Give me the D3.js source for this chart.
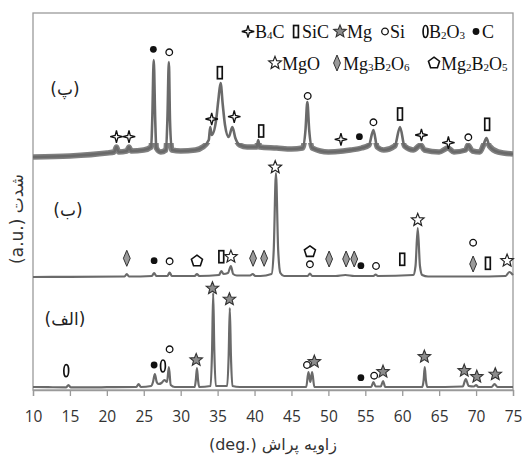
<!DOCTYPE html>
<html><head><meta charset="utf-8">
<script src="https://cdn.jsdelivr.net/npm/d3@7"></script>
<style>body{margin:0;background:#fff}</style>
</head><body>
<svg id="c" width="522" height="460"></svg>
<script>
// ---------------- data ----------------
const xTicks = [10,15,20,25,30,35,40,45,50,55,60,65,70,75];
const xTitle = "(deg.) زاویه پراش";
const yTitle = "(a.u.) شدت";
const panelLabels = ["(الف)", "(ب)", "(پ)"];
const legendRow1 = ["B4C","SiC","Mg","Si","B2O3","C"];
const legendRow2 = ["MgO","Mg3B2O6","Mg2B2O5"];

// pattern (الف) : [2θ, intensity a.u.]
const patternAlef = [[10,3],[12,2.8],[14.5,2.6],[14.8,5],[15.1,2.6],[18,2.6],[20,2.8],[24.0,3],[24.3,6],[24.6,3],[26.0,4],[26.25,8],[26.5,16],[26.75,8],[27.0,6],[27.4,7],[27.8,10],[28.15,8],[28.4,23],[28.65,5],[29.2,3],[31.9,3],[32.05,10],[32.2,22],[32.35,10],[32.5,3],[34.05,4],[34.25,40],[34.4,97],[34.55,40],[34.75,4],[36.3,4],[36.5,35],[36.65,82],[36.8,35],[37.0,4],[38,3],[47.0,3],[47.3,18],[47.55,8],[47.8,18],[48.1,3],[55.8,3],[56.1,8],[56.4,3.5],[57.1,3.5],[57.4,9],[57.7,3],[62.7,3],[62.9,10],[63.05,23],[63.2,10],[63.4,3],[68.2,3.5],[68.6,11],[69.0,4],[69.7,3.5],[70.0,5],[70.3,3],[72.1,3],[72.5,6],[72.9,3],[75,3]];

// pattern (ب)
const patternBe = [[10,3],[15,3.2],[22.4,3.5],[22.7,6],[23.0,3.5],[26.1,4],[26.4,7],[26.7,4],[28.2,4],[28.5,7.5],[28.8,4],[31.9,4],[32.2,6],[32.5,4],[35.2,5],[35.5,9],[35.8,6],[36.4,7],[36.8,14],[37.1,6],[37.6,4.5],[39.4,4.5],[39.75,6],[40.1,4],[40.8,4],[42.3,6],[42.6,30],[42.9,107],[43.2,30],[43.5,7],[44,4],[47.2,4],[47.5,6.5],[47.8,4],[51,4],[52.3,5],[53.5,4],[56.1,4],[56.4,5.5],[56.7,4],[61.5,5],[61.8,14],[62.1,52],[62.4,14],[62.7,5],[63.5,3.5],[69.5,3.5],[74.0,4],[74.5,8],[75,5]];

// pattern (پ)
const patternPe = [[10,3],[15,4],[20,7],[21.0,8],[21.3,13],[21.6,8],[22.7,9],[23.0,13],[23.3,9],[25,10],[26.0,13],[26.15,40],[26.35,100],[26.55,40],[26.7,12],[27.3,8],[28.0,10],[28.2,40],[28.4,98],[28.55,40],[28.8,10],[30,9],[32,10],[33,13],[33.8,20],[34.0,33],[34.2,25],[34.8,40],[35.1,60],[35.4,77],[35.7,55],[36.0,35],[36.5,23],[37.0,33],[37.4,22],[38,15],[39,13],[40.3,13],[40.5,20],[40.7,13],[43,12],[45,11],[46.5,12],[46.9,30],[47.15,58],[47.4,30],[47.8,12],[50,8],[52,9],[53,10],[54.5,12],[55.5,15],[56.1,30],[56.6,13],[57.5,10],[59.0,14],[59.7,33],[60.3,14],[61.5,10],[62.5,15],[63,10],[65,8],[66.2,12],[67,8],[68.6,10],[68.9,15],[69.5,9],[70.5,8],[71.0,15],[71.4,22],[71.8,14],[73,8],[75,6]];

// phase markers: [phase, 2θ, level a.u.]
const markersAlef = [["B2O3",14.5,19.3],["C",26.4,25],["B2O3",27.6,24],["Si",28.5,40.7],["Mg",32.1,30],["Mg",34.3,101.7],["Mg",36.6,90.7],["Si",47.1,25],["Mg",48.1,28.3],["C",54.4,12.3],["Si",56.2,14.3],["Mg",57.4,18.3],["Mg",63.0,33.3],["Mg",68.4,19.3],["Mg",70.1,13.3],["Mg",72.6,15.7]];
const markersBe = [["Mg3B2O6",22.7,21.7],["C",26.4,19.3],["Si",28.5,18.7],["Mg2B2O5",32.2,19],["SiC",35.5,23.3],["MgO",36.8,23.3],["Mg3B2O6",39.8,21.7],["Mg3B2O6",41.3,21.7],["MgO",42.8,112.7],["Mg2B2O5",47.5,28.3],["Si",47.5,15.7],["Mg3B2O6",50.1,21],["Mg3B2O6",52.4,21],["Mg3B2O6",53.5,21],["C",54.4,14.3],["Si",56.45,14],["SiC",60.0,20.7],["MgO",62.1,60],["Si",69.6,37.3],["Mg3B2O6",69.6,16],["SiC",71.6,16.7],["MgO",74.2,19.3]];
const markersPe = [["B4C",21.3,23.3],["B4C",23.0,23.3],["C",26.3,110.7],["Si",28.45,107.7],["B4C",34.2,41],["SiC",35.3,87.3],["B4C",37.25,43.3],["SiC",40.9,29],["Si",47.2,64],["B4C",51.7,20.7],["C",54.2,23.3],["Si",56.1,37.7],["SiC",59.7,46],["B4C",62.6,25],["B4C",66.25,17.3],["Si",68.95,22.7],["SiC",71.5,35.7]];

// ---------------- layout ----------------
const L = 33, R = 513, T = 13, B = 390;
const offsets = [0, 110, 230];
const svg = d3.select("#c");
const x = d3.scaleLinear().domain([10, 75]).range([L, R]);
const y = d3.scaleLinear().domain([0, 377]).range([B, T]);
const frameColor = "#9a9a9a";
const traceColor = "#6a6a6a";

// frame
svg.append("rect").attr("x", L).attr("y", T).attr("width", R - L).attr("height", B - T)
  .attr("fill", "none").attr("stroke", frameColor).attr("stroke-width", 1.3);

// x axis
const xAxis = d3.axisBottom(x).tickValues(xTicks).tickSize(6).tickPadding(15).tickFormat(d3.format("d"));
const gx = svg.append("g").attr("transform", `translate(0,${B})`).call(xAxis);
gx.select(".domain").attr("stroke", frameColor).attr("stroke-width", 1.3);
gx.selectAll(".tick line").attr("stroke", frameColor).attr("stroke-width", 1.3);
gx.selectAll(".tick text").attr("font-family", "'Open Sans', sans-serif").attr("font-size", 15.5).attr("fill", "#333");

svg.append("text").attr("x", (L + R) / 2).attr("y", 450).attr("text-anchor", "middle")
  .attr("font-family", "'DejaVu Sans', sans-serif").attr("font-size", 16).attr("fill", "#333").text(xTitle);
svg.append("text").attr("transform", `translate(23,219) rotate(-90)`).attr("text-anchor", "middle")
  .attr("font-family", "'DejaVu Sans', sans-serif").attr("font-size", 17).attr("fill", "#333").text(yTitle);

// traces
const patterns = [patternAlef, patternBe, patternPe];
const widths = [2.2, 2.2, 2.6];
const defs = svg.append("defs");
defs.append("clipPath").attr("id", "noiseBand").append("rect")
  .attr("x", L).attr("width", R - L).attr("y", y(offsets[2] + 17)).attr("height", y(offsets[2] - 6) - y(offsets[2] + 17));
patterns.forEach((p, i) => {
  const line = d3.line().x(d => x(d[0])).y(d => y(d[1] + offsets[i])).curve(d3.curveMonotoneX);
  if (i === 2) {
    svg.append("path").datum(p).attr("d", line).attr("fill", "none").attr("clip-path", "url(#noiseBand)")
      .attr("stroke", "#808080").attr("stroke-width", 5.5).attr("stroke-linejoin", "round");
  }
  svg.append("path").datum(p).attr("d", line).attr("fill", "none")
    .attr("stroke", traceColor).attr("stroke-width", widths[i]).attr("stroke-linejoin", "round");
});

// panel labels
const labelPos = [[65, 325], [68, 216], [65, 95]];
panelLabels.forEach((t, i) => {
  svg.append("text").attr("x", labelPos[i][0]).attr("y", labelPos[i][1]).attr("text-anchor", "middle")
    .attr("font-family", "'DejaVu Sans', sans-serif").attr("font-size", 17).attr("fill", "#222").text(t);
});

// symbols
function starPts(R, r, n) {
  const pts = [];
  for (let k = 0; k < 2 * n; k++) {
    const a = -Math.PI / 2 + k * Math.PI / n;
    const rr = k % 2 === 0 ? R : r;
    pts.push([rr * Math.cos(a), rr * Math.sin(a)]);
  }
  return "M" + pts.map(p => p[0].toFixed(2) + "," + p[1].toFixed(2)).join("L") + "Z";
}
function polyPts(R, n) {
  const pts = [];
  for (let k = 0; k < n; k++) {
    const a = -Math.PI / 2 + k * 2 * Math.PI / n;
    pts.push([R * Math.cos(a), R * Math.sin(a)]);
  }
  return "M" + pts.map(p => p[0].toFixed(2) + "," + p[1].toFixed(2)).join("L") + "Z";
}
function drawSymbol(g, phase, cx, cy) {
  const s = g.append("g").attr("transform", `translate(${cx},${cy})`);
  switch (phase) {
    case "B4C":
      s.append("path").attr("d", starPts(6.2, 1.8, 4)).attr("fill", "#fff").attr("stroke", "#111").attr("stroke-width", 1.3); break;
    case "SiC":
      s.append("rect").attr("x", -2.4).attr("y", -6).attr("width", 4.8).attr("height", 12).attr("fill", "#fff").attr("stroke", "#111").attr("stroke-width", 1.7); break;
    case "Mg":
      s.append("path").attr("d", starPts(6.6, 2.9, 5)).attr("fill", "#8c8c8c").attr("stroke", "#333").attr("stroke-width", 1.1); break;
    case "Si":
      s.append("circle").attr("r", 3.3).attr("fill", "#fff").attr("stroke", "#111").attr("stroke-width", 1.3); break;
    case "B2O3":
      s.append("ellipse").attr("rx", 2.4).attr("ry", 6).attr("fill", "#fff").attr("stroke", "#111").attr("stroke-width", 1.7); break;
    case "C":
      s.append("circle").attr("r", 3.4).attr("fill", "#111"); break;
    case "MgO":
      s.append("path").attr("d", starPts(6.6, 2.9, 5)).attr("fill", "#fff").attr("stroke", "#222").attr("stroke-width", 1.2); break;
    case "Mg3B2O6":
      s.append("path").attr("d", "M0,-8L3.4,0L0,8L-3.4,0Z").attr("fill", "#9a9a9a").attr("stroke", "#333").attr("stroke-width", 1); break;
    case "Mg2B2O5":
      s.append("path").attr("d", polyPts(5.8, 5)).attr("fill", "#fff").attr("stroke", "#111").attr("stroke-width", 1.6); break;
  }
}

const markerSets = [markersAlef, markersBe, markersPe];
const mg = svg.append("g");
markerSets.forEach((ms, i) => {
  ms.forEach(m => drawSymbol(mg, m[0], x(m[1]), y(m[2] + offsets[i])));
});

// legend
function legendText(g, label, tx, ty) {
  const t = g.append("text").attr("x", tx).attr("y", ty)
    .attr("font-family", "'Liberation Serif', 'Times New Roman', serif").attr("font-size", 18).attr("fill", "#111");
  let prevSub = false;
  label.split(/(\d)/).filter(s => s.length).forEach(s => {
    const isSub = /\d/.test(s);
    if (isSub) t.append("tspan").attr("font-size", 11).attr("dy", prevSub ? 0 : 1).text(s);
    else t.append("tspan").attr("dy", prevSub ? -1 : 0).text(s);
    prevSub = isSub;
  });
}
const lg = svg.append("g");
const row1Sym = [248, 296, 340, 385, 425.5, 476];
const row1Txt = [255, 302, 347, 390, 429, 482];
legendRow1.forEach((p, i) => { drawSymbol(lg, p, row1Sym[i], 31.5); legendText(lg, p, row1Txt[i], 37.5); });
const row2Sym = [275, 337, 434];
const row2Txt = [282, 343, 441];
legendRow2.forEach((p, i) => { drawSymbol(lg, p, row2Sym[i], 63); legendText(lg, p, row2Txt[i], 69.5); });
</script>
</body></html>
